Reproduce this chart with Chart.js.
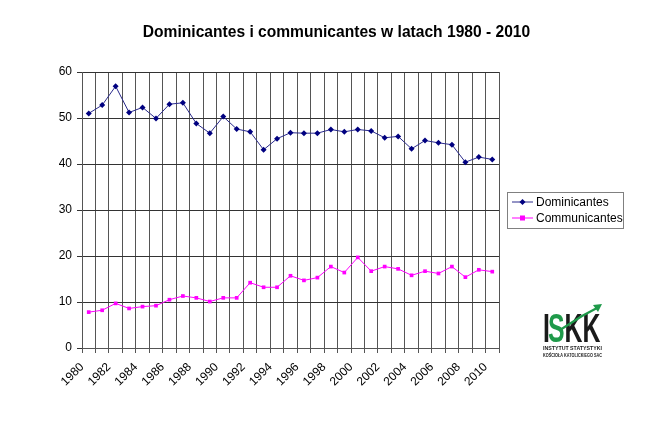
<!DOCTYPE html>
<html>
<head>
<meta charset="utf-8">
<script src="https://cdn.jsdelivr.net/npm/chart.js@4/dist/chart.umd.min.js"></script>
<style>
html,body{margin:0;padding:0;background:#fff;}
#wrap{position:relative;width:664px;height:442px;}
</style>
</head>
<body>
<div id="wrap"><canvas id="c" width="664" height="442"></canvas></div>
<script>
const years = ["1980","1981","1982","1983","1984","1985","1986","1987","1988","1989","1990","1991","1992","1993","1994","1995","1996","1997","1998","1999","2000","2001","2002","2003","2004","2005","2006","2007","2008","2009","2010"];
const dominicantes = [51.0,52.8,56.9,51.2,52.3,49.9,53.0,53.3,48.8,46.7,50.3,47.6,47.0,43.1,45.5,46.8,46.7,46.7,47.5,47.0,47.5,47.2,45.7,46.0,43.3,45.1,44.6,44.2,40.4,41.5,41.0];
const communicantes = [7.8,8.2,9.7,8.6,9.0,9.2,10.5,11.3,10.9,10.1,10.9,10.9,14.2,13.2,13.2,15.7,14.7,15.3,17.7,16.4,19.7,16.7,17.7,17.2,15.8,16.7,16.2,17.7,15.4,17.0,16.6];
const yTicks = [0,10,20,30,40,50,60];
const titleText = "Dominicantes i communicantes w latach 1980 - 2010";
const seriesNames = ["Dominicantes","Communicantes"];

const FONT = "'Liberation Sans', Arial, sans-serif";
const navy = "#000080";
const navyLine = "#2a2a8c";
const magenta = "#ff00ff";

const decor = {
  id: 'decor',
  afterDraw(chart) {
    const ctx = chart.ctx;
    ctx.save();
    // title
    ctx.fillStyle = '#000';
    ctx.font = "bold 15.6px " + FONT;
    ctx.textAlign = 'center';
    ctx.textBaseline = 'middle';
    ctx.fillText(titleText, 336.5, 33);
    // legend
    ctx.strokeStyle = '#808080';
    ctx.lineWidth = 1;
    ctx.strokeRect(507.5, 192.5, 116, 36);
    const items = [
      {name: seriesNames[0], color: navy, line: navyLine, shape: 'diamond', y: 202},
      {name: seriesNames[1], color: magenta, line: magenta, shape: 'square', y: 218}
    ];
    ctx.font = "12px " + FONT;
    ctx.textAlign = 'left';
    items.forEach(it => {
      ctx.strokeStyle = it.line;
      ctx.beginPath(); ctx.moveTo(512, it.y); ctx.lineTo(533, it.y); ctx.stroke();
      ctx.fillStyle = it.color;
      if (it.shape === 'diamond') {
        ctx.beginPath(); ctx.moveTo(522.5, it.y-3); ctx.lineTo(525.5, it.y); ctx.lineTo(522.5, it.y+3); ctx.lineTo(519.5, it.y); ctx.closePath(); ctx.fill();
      } else {
        ctx.fillRect(520, it.y-2.5, 5, 5);
      }
      ctx.fillStyle = '#000';
      ctx.fillText(it.name, 536, it.y + 1);
    });
    // logo
    ctx.save();
    ctx.translate(543, 342);
    ctx.scale(0.62, 1);
    ctx.textBaseline = 'alphabetic';
    ctx.font = "bold 40px " + FONT;
    ctx.fillStyle = '#1a1a1a';
    ctx.fillText("I", 0, 0);
    const wI = ctx.measureText("I").width;
    ctx.fillStyle = '#1f9a4a';
    ctx.fillText("S", wI - 3, 0);
    const wS = ctx.measureText("S").width;
    ctx.fillStyle = '#1a1a1a';
    ctx.fillText("KK", wI + wS - 3, 0);
    ctx.restore();
    ctx.strokeStyle = '#1f9a4a';
    ctx.lineWidth = 2.2;
    ctx.beginPath(); ctx.moveTo(560, 330); ctx.lineTo(582, 316); ctx.lineTo(597, 308); ctx.stroke();
    ctx.fillStyle = '#1f9a4a';
    ctx.beginPath(); ctx.moveTo(602, 304); ctx.lineTo(593, 305); ctx.lineTo(598, 312); ctx.closePath(); ctx.fill();
    ctx.fillStyle = '#222';
    ctx.textBaseline = 'alphabetic';
    ctx.font = "bold 6px " + FONT;
    ctx.fillText("INSTYTUT STATYSTYKI", 543, 350, 59);
    ctx.font = "bold 4.5px " + FONT;
    ctx.fillText("KOŚCIOŁA KATOLICKIEGO SAC", 543, 357, 59);
    ctx.restore();
  }
};

new Chart(document.getElementById('c'), {
  type: 'line',
  data: {
    labels: years,
    datasets: [
      {label: seriesNames[0], data: dominicantes, borderColor: navyLine, backgroundColor: navy, borderWidth: 1, pointStyle: 'rectRot', pointRadius: 3, pointBorderWidth: 0, pointBackgroundColor: navy, tension: 0},
      {label: seriesNames[1], data: communicantes, borderColor: magenta, backgroundColor: magenta, borderWidth: 1, pointStyle: 'rect', pointRadius: 2.6, pointBorderWidth: 0, pointBackgroundColor: magenta, tension: 0}
    ]
  },
  options: {
    responsive: false,
    animation: false,
    layout: {padding: {left: 0, right: 165, top: 72, bottom: 0}},
    plugins: {legend: {display: false}, title: {display: false}, tooltip: {enabled: false}},
    scales: {
      x: {
        type: 'category',
        offset: true,
        grid: {offset: true, color: '#555', lineWidth: 1, tickLength: 5, drawTicks: true},
        border: {color: '#555'},
        afterFit(s) { s.height = 94; },
        ticks: {
          autoSkip: false, maxRotation: 45, minRotation: 45,
          labelOffset: -6.7, padding: 7,
          color: '#000', font: {family: FONT, size: 12},
          callback(v, i) { return i % 2 === 0 ? years[i] : ''; }
        }
      },
      y: {
        min: 0, max: 60,
        afterBuildTicks(s) { s.ticks = yTicks.map(v => ({value: v})); },
        afterFit(s) { s.width = 82; },
        grid: {color: '#333', lineWidth: 1, tickLength: 5},
        border: {color: '#555'},
        ticks: {color: '#000', font: {family: FONT, size: 12}, padding: 5}
      }
    }
  },
  plugins: [decor]
});
</script>
</body>
</html>
